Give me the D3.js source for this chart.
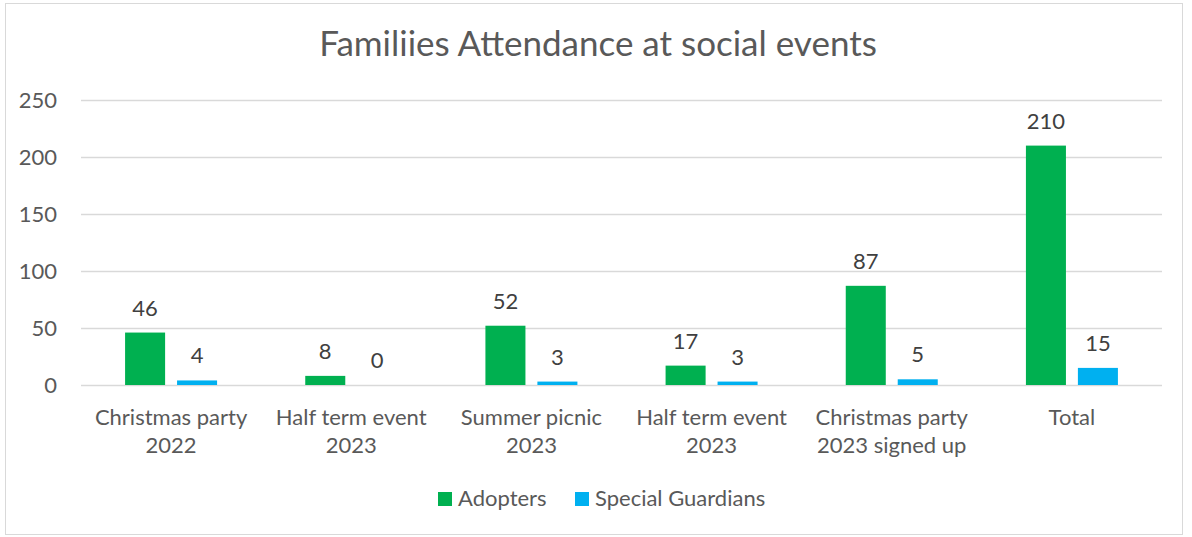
<!DOCTYPE html>
<html>
<head>
<meta charset="utf-8">
<script src="https://cdn.jsdelivr.net/npm/d3@7"></script>
<style>
  body { margin: 0; background: #fff; }
  svg { font-family: Lato, "Open Sans", sans-serif; }
</style>
</head>
<body>
<svg id="chart" width="1192" height="537"></svg>
<script>
var width = 1192
var height = 537

// chart data
var categories = [
  ["Christmas party", "2022"],
  ["Half term event", "2023"],
  ["Summer picnic", "2023"],
  ["Half term event", "2023"],
  ["Christmas party", "2023 signed up"],
  ["Total"]
]
var adopters = [46, 8, 52, 17, 87, 210]
var guardians = [4, 0, 3, 3, 5, 15]
var seriesNames = ["Adopters", "Special Guardians"]
var seriesColors = ["#00b050", "#00b0f0"]
var yTicks = [0, 50, 100, 150, 200, 250]

var margin = {left: 81, right: 30, top: 100, bottom: 152}

const svg = d3.select("svg#chart")

// outer border
svg.append("rect")
    .attr("x", 5.5).attr("y", 3.5)
    .attr("width", 1177).attr("height", 531)
    .attr("fill", "#fff")
    .attr("stroke", "#d9d9d9")

svg.append("text")
    .attr("x", 598)
    .attr("y", 56)
    .attr("text-anchor", "middle")
    .attr("font-size", 35)
    .attr("fill", "#595959")
    .text("Familiies Attendance at social events")

const x = d3.scaleBand()
    .domain(d3.range(categories.length))
    .range([margin.left, width - margin.right])

const y = d3.scaleLinear()
    .domain([0, 250])
    .range([height - margin.bottom, margin.top])

const inner = d3.scaleBand()
    .domain([0, 1])
    .range([x.bandwidth() / 2 - 46, x.bandwidth() / 2 + 46])
    .paddingInner(0.23)

// gridlines
const yAxis = svg.append("g")
    .attr("transform", `translate(${margin.left},0)`)
    .call(d3.axisLeft(y).tickValues(yTicks).tickSize(-(width - margin.left - margin.right)).tickPadding(24))
yAxis.select(".domain").remove()
yAxis.selectAll("line").attr("stroke", "#d9d9d9").attr("stroke-width", 1.3)
yAxis.selectAll("text")
    .attr("font-size", 22)
    .attr("fill", "#595959")
    .attr("font-family", "Lato, 'Open Sans', sans-serif")

// bars
const rows = categories.map((c, i) => ({i: i, vals: [adopters[i], guardians[i]]}))

const group = svg.append("g").selectAll("g")
    .data(rows)
    .enter().append("g")
      .attr("transform", d => `translate(${x(d.i)},0)`)

group.selectAll("rect")
    .data(d => d.vals.map((v, s) => ({v: v, s: s})))
    .enter().append("rect")
      .attr("x", d => inner(d.s))
      .attr("width", inner.bandwidth())
      .attr("y", d => y(d.v))
      .attr("height", d => y(0) - y(d.v))
      .attr("fill", d => seriesColors[d.s])

group.selectAll("text.val")
    .data(d => d.vals.map((v, s) => ({v: v, s: s})))
    .enter().append("text")
      .attr("class", "val")
      .attr("x", d => inner(d.s) + inner.bandwidth() / 2)
      .attr("y", d => y(d.v) - 17)
      .attr("text-anchor", "middle")
      .attr("font-size", 22)
      .attr("fill", "#404040")
      .text(d => d.v)

// category labels
const cat = svg.append("g").selectAll("text")
    .data(rows)
    .enter().append("text")
      .attr("x", d => x(d.i) + x.bandwidth() / 2)
      .attr("y", 425)
      .attr("text-anchor", "middle")
      .attr("font-size", 22)
      .attr("fill", "#595959")

cat.selectAll("tspan")
    .data(d => categories[d.i])
    .enter().append("tspan")
      .attr("x", function() { return this.parentNode.getAttribute("x") })
      .attr("dy", (d, i) => i === 0 ? 0 : 28)
      .text(d => d)

// legend
const legendX = [438, 575]
const legend = svg.append("g").selectAll("g")
    .data(seriesNames)
    .enter().append("g")
      .attr("transform", (d, i) => `translate(${legendX[i]},492)`)

legend.append("rect")
    .attr("width", 14).attr("height", 14)
    .attr("fill", (d, i) => seriesColors[i])

legend.append("text")
    .attr("x", 20)
    .attr("y", 14)
    .attr("font-size", 22)
    .attr("fill", "#595959")
    .text(d => d)
</script>
</body>
</html>
